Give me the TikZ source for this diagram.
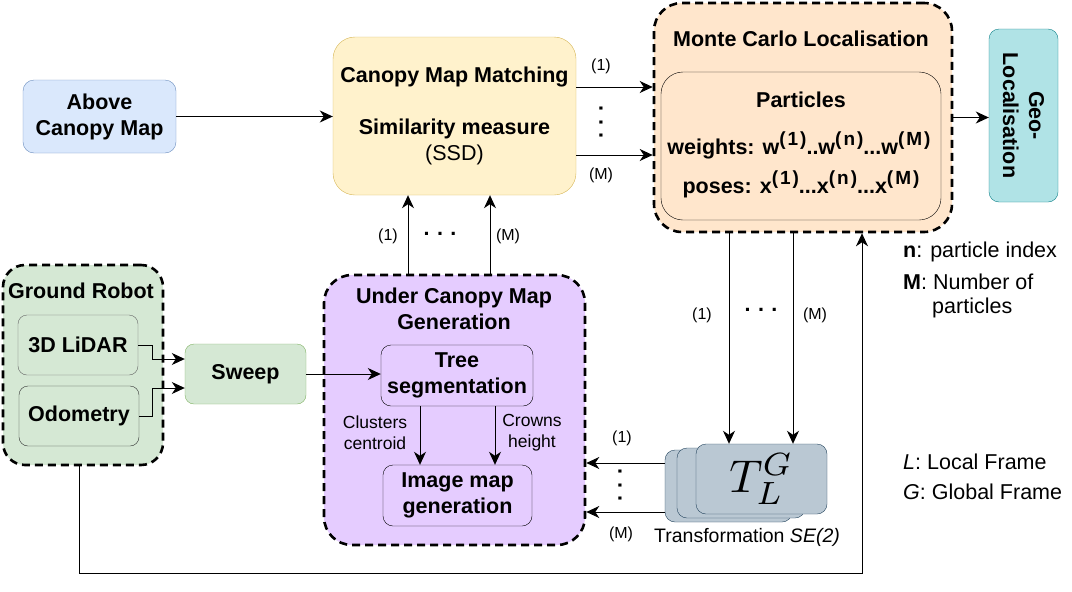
\documentclass[tikz,border=0pt]{standalone}
\usepackage{fontspec}
\setmainfont{Liberation Sans}
\usepackage{graphicx}
\usetikzlibrary{arrows.meta,calc}
\definecolor{abovefill}{HTML}{DAE8FC}
\definecolor{abovedraw}{HTML}{6C8EBF}
\definecolor{cmmfill}{HTML}{FFF2CC}
\definecolor{cmmdraw}{HTML}{D6B656}
\definecolor{mclfill}{HTML}{FFE6CC}
\definecolor{geofill}{HTML}{B0E3E6}
\definecolor{geodraw}{HTML}{0E8088}
\definecolor{grfill}{HTML}{D5E8D4}
\definecolor{sweepdraw}{HTML}{82B366}
\definecolor{ucfill}{HTML}{E5CCFF}
\definecolor{tfill}{HTML}{BAC8D3}
\definecolor{tdraw}{HTML}{23445D}
\newcommand{\psup}[1]{\raisebox{9pt}{\fontsize{19}{19}\selectfont(\kern2pt#1\kern2pt)}}
\newcommand{\mainb}{\fontsize{21.5}{26}\selectfont\bfseries}
\newcommand{\lblf}{\fontsize{16}{19}\selectfont}
\newcommand{\smallf}{\fontsize{17.5}{21}\selectfont}
\newcommand{\legf}{\fontsize{21.5}{24}\selectfont}
\begin{document}
\begin{tikzpicture}[x=1pt,y=-1pt,
  rbox/.style={draw, rectangle, inner sep=0pt, align=center, font=\mainb},
  dashbox/.style={draw=black, rectangle, inner sep=0pt, line width=2.6pt, dash pattern=on 8pt off 5pt},
  arr/.style={-{Stealth[length=13pt,width=12pt,inset=4pt]}, line width=1pt},
  lbl/.style={font=\lblf, inner sep=0pt},
  dots/.style={font=\mainb, inner sep=0pt}]
\useasboundingbox (0,0) rectangle (1072,592);

% top row
\node[rbox, fill=abovefill, draw=abovedraw, rounded corners=11pt, minimum width=153pt, minimum height=73pt] (above) at (99.5,116.5) {Above\\Canopy Map};
\node[rbox, fill=cmmfill, draw=cmmdraw, rounded corners=22pt, minimum width=243pt, minimum height=158pt] (cmm) at (454.5,116) {Canopy Map Matching\\[26pt]Similarity measure\\{\mdseries (SSD)}};
\node[dashbox, fill=mclfill, rounded corners=28pt, minimum width=298pt, minimum height=229pt] (mcl) at (803,117.5) {};
\node[font=\mainb, inner sep=0pt] (mcltitle) at (801,39) {Monte Carlo Localisation};
\node[draw=black, fill=mclfill, rectangle, rounded corners=22pt, minimum width=280pt, minimum height=148pt] (part) at (801,146) {};
\node[font=\mainb, inner sep=0pt, anchor=base] (ptitle) at (801,107) {Particles};
\node[font=\mainb, inner sep=0pt, anchor=base] (pw) at (799,154) {weights: w\psup{1}..w\psup{n}...w\psup{M}};
\node[font=\mainb, inner sep=0pt, anchor=base] (pp) at (801,193) {poses: x\psup{1}...x\psup{n}...x\psup{M}};
\node[rbox, fill=geofill, draw=geodraw, rounded corners=10pt, minimum width=173pt, minimum height=69pt, rotate=-90] (geo) at (1023.5,115.5) {Geo-\\Localisation};

\draw[arr] (above.east) -- (above.east -| cmm.west);
\draw[arr] ([yshift=29pt]cmm.east) -- ([yshift=29pt]cmm.east -| mcl.west);
\draw[arr] ([yshift=-39pt]cmm.east) -- ([yshift=-39pt]cmm.east -| mcl.west);
\node[lbl] (l1a) at (601,66) {(1)};
\node[lbl] (lma) at (601,175) {(M)};
\node[dots, rotate=90] (vda) at (601,122) {.\hspace{7.5pt}.\hspace{7.5pt}.};
\draw[arr] (mcl.east) -- (mcl.east -| geo.south);

% ground robot
\node[dashbox, fill=grfill, rounded corners=22pt, minimum width=160pt, minimum height=200pt] (gr) at (83,365) {};
\node[font=\mainb, inner sep=0pt] (grtitle) at (81,291) {Ground Robot};
\node[rbox, fill=grfill, draw=black!60, rounded corners=9pt, minimum width=120pt, minimum height=60pt] (lidar) at (78,345) {3D LiDAR};
\node[rbox, fill=grfill, draw=black!80, rounded corners=9pt, minimum width=120pt, minimum height=60pt] (odo) at (79,416) {Odometry};
\node[rbox, fill=grfill, draw=sweepdraw, rounded corners=9pt, minimum width=121pt, minimum height=60pt] (sweep) at (245.5,374) {Sweep};
\draw[arr] (lidar.east) -- ++(14,0) |- ([yshift=15pt]sweep.west);
\draw[arr] (odo.east) -- ++(13,0) |- ([yshift=-14pt]sweep.west);

% under canopy map generation
\node[dashbox, fill=ucfill, rounded corners=28pt, minimum width=261pt, minimum height=270pt] (uc) at (454.5,410) {};
\node[font=\mainb, inner sep=0pt, align=center] (uctitle) at (454,308.5) {Under Canopy Map\\Generation};
\node[rbox, fill=ucfill, draw=black, rounded corners=10pt, minimum width=152pt, minimum height=61pt] (tree) at (457,375.5) {Tree\\segmentation};
\node[rbox, fill=ucfill, draw=black, rounded corners=10pt, minimum width=149pt, minimum height=61pt] (img) at (457.5,495.5) {Image map\\generation};
\draw[arr] (sweep.east) -- (sweep.east -| tree.west);
\draw[arr] ([xshift=-37pt]tree.south) -- ([xshift=-37pt]tree.south |- img.north);
\draw[arr] ([xshift=38pt]tree.south) -- ([xshift=38pt]tree.south |- img.north);
\node[font=\smallf, inner sep=0pt, align=center] (cc) at (375,432.5) {Clusters\\centroid};
\node[font=\smallf, inner sep=0pt, align=center] (ch) at (532,433) {Crowns\\height};

\draw[arr] ([xshift=-46.5pt]uc.north) -- ([xshift=-46.5pt]uc.north |- cmm.south);
\draw[arr] ([xshift=35.5pt]uc.north) -- ([xshift=35.5pt]uc.north |- cmm.south);
\node[lbl] (l1b) at (388,236) {(1)};
\node[dots] (hdb) at (440,234) {.\hspace{7.5pt}.\hspace{7.5pt}.};
\node[lbl] (lmb) at (508,236) {(M)};

% transformations
\node[draw=tdraw, fill=tfill, rectangle, rounded corners=10pt, minimum width=127pt, minimum height=72pt] (t3) at (728.5,486) {};
\node[draw=tdraw, fill=tfill, rectangle, rounded corners=10pt, minimum width=128pt, minimum height=70pt] (t2) at (741,483) {};
\node[draw=tdraw, fill=tfill, rectangle, rounded corners=10pt, minimum width=131pt, minimum height=70pt, inner sep=0pt] (tf) at (761.5,479) {\scalebox{4.6}{$T_L^G$}};
\node[font=\fontsize{19.5}{23}\selectfont, inner sep=0pt] (tlabel) at (747,537) {Transformation \textit{SE(2)}};

\draw[arr] ([xshift=-74pt]mcl.south) -- ([xshift=-74pt]mcl.south |- tf.north);
\draw[arr] ([xshift=-10pt]mcl.south) -- ([xshift=-10pt]mcl.south |- tf.north);
\node[lbl] (l1c) at (702,315) {(1)};
\node[dots] (hdc) at (761,310) {.\hspace{7.5pt}.\hspace{7.5pt}.};
\node[lbl] (lmc) at (815,315) {(M)};

\draw[arr] ([yshift=23pt]t3.west) -- ([yshift=23pt]t3.west -| uc.east);
\draw[arr] ([yshift=-26pt]t3.west) -- ([yshift=-26pt]t3.west -| uc.east);
\node[lbl] (l1d) at (622,438) {(1)};
\node[lbl] (lmd) at (621,534) {(M)};
\node[dots, rotate=90] (vdd) at (620,485) {.\hspace{7.5pt}.\hspace{7.5pt}.};

% feedback
\coordinate (fb) at (862,573);
\draw[arr] ([xshift=-4pt]gr.south) |- (fb) -- (fb |- mcl.south);

% legend
\node[font=\legf, inner sep=0pt, anchor=base west] (legn) at (903,257) {\textbf{n}: particle index};
\node[font=\legf, inner sep=0pt, anchor=base west] (legm) at (903,289) {\textbf{M}: Number of};
\node[font=\legf, inner sep=0pt, anchor=base west] (legp) at (932,313) {particles};
\node[font=\legf, inner sep=0pt, anchor=base west] (legl) at (903,469) {\textit{L}: Local Frame};
\node[font=\legf, inner sep=0pt, anchor=base west] (legg) at (903,499) {\textit{G}: Global Frame};
\end{tikzpicture}
\end{document}
